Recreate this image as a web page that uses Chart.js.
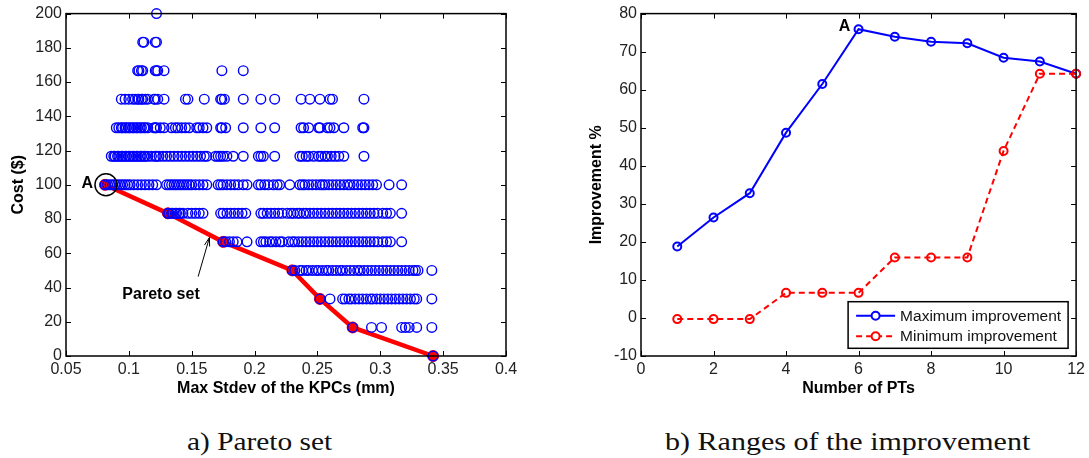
<!DOCTYPE html>
<html>
<head>
<meta charset="utf-8">
<script src="https://cdn.jsdelivr.net/npm/chart.js@4/dist/chart.umd.min.js"></script>
<style>
  body { margin: 0; background: #fff; }
  #wrap { position: relative; width: 1089px; height: 458px; overflow: hidden; }
  canvas { position: absolute; top: 0; }
  .caption {
    position: absolute;
    top: 429px;
    font: 26px/26px "Liberation Serif", "Times New Roman", serif;
    color: #111;
    white-space: nowrap;
    transform-origin: left top;
  }
</style>
</head>
<body>
<div id="wrap">
  <canvas id="paretoChart" width="540" height="402" style="left:0"></canvas>
  <canvas id="improvementChart" width="529" height="402" style="left:560px"></canvas>
  <div class="caption" style="left:187px; transform:scaleX(1.13)">a) Pareto set</div>
  <div class="caption" style="left:665px; transform:scaleX(1.155)">b) Ranges of the improvement</div>
</div>
<script>
// ---- a) Pareto set: candidate designs, one list of KPC stdev per cost level ----
const costLevels = [200, 183.33, 166.67, 150, 133.33, 116.67, 100, 83.33, 66.67, 50, 33.33, 16.67, 0];

const stdevAt200 = [0.122];
const stdevAt183 = [0.111, 0.112, 0.121, 0.122];
const stdevAt167 = [0.107, 0.108, 0.110, 0.111, 0.121, 0.122, 0.123, 0.128, 0.174, 0.191];
const stdevAt150 = [0.094, 0.097, 0.100, 0.103, 0.105, 0.107, 0.108, 0.110, 0.111, 0.113, 0.115, 0.120, 0.121,
  0.123, 0.128, 0.145, 0.147, 0.160, 0.173, 0.174, 0.176, 0.191, 0.205, 0.216, 0.237, 0.244, 0.252, 0.260,
  0.262, 0.287];
const stdevAt133 = [0.090, 0.092, 0.094, 0.095, 0.097, 0.098, 0.100, 0.101, 0.103, 0.104, 0.106, 0.107, 0.109,
  0.110, 0.112, 0.113, 0.115, 0.120, 0.121, 0.122, 0.125, 0.128, 0.134, 0.137, 0.139, 0.142, 0.145, 0.148,
  0.154, 0.156, 0.159, 0.162, 0.173, 0.174, 0.177, 0.191, 0.205, 0.216, 0.237, 0.239, 0.243, 0.251, 0.252,
  0.258, 0.260, 0.263, 0.271, 0.286, 0.287];
const stdevAt117 = [0.086, 0.088, 0.089, 0.091, 0.092, 0.094, 0.095, 0.097, 0.098, 0.100, 0.101, 0.103, 0.104,
  0.106, 0.107, 0.109, 0.110, 0.112, 0.113, 0.115, 0.118, 0.121, 0.122, 0.124, 0.127, 0.130, 0.133, 0.136,
  0.139, 0.142, 0.145, 0.148, 0.151, 0.154, 0.157, 0.160, 0.162, 0.169, 0.171, 0.173, 0.175, 0.178, 0.183,
  0.191, 0.203, 0.205, 0.207, 0.216, 0.236, 0.238, 0.241, 0.243, 0.247, 0.251, 0.253, 0.256, 0.258, 0.261,
  0.264, 0.267, 0.271, 0.287];
const stdevAt100 = [0.081, 0.083, 0.085, 0.087, 0.089, 0.091, 0.093, 0.095, 0.097, 0.099, 0.101, 0.104, 0.107,
  0.110, 0.113, 0.116, 0.119, 0.122, 0.130, 0.132, 0.134, 0.136, 0.138, 0.140, 0.142, 0.144, 0.146, 0.148,
  0.150, 0.153, 0.156, 0.159, 0.162, 0.171, 0.173, 0.175, 0.178, 0.181, 0.184, 0.187, 0.191, 0.194, 0.203,
  0.205, 0.208, 0.211, 0.215, 0.218, 0.220, 0.228, 0.236, 0.238, 0.240, 0.243, 0.246, 0.249, 0.252, 0.254,
  0.256, 0.259, 0.262, 0.265, 0.268, 0.271, 0.274, 0.276, 0.279, 0.282, 0.285, 0.288, 0.291, 0.294, 0.297,
  0.307, 0.317];
const stdevAt83 = [0.131, 0.132, 0.134, 0.135, 0.137, 0.138, 0.140, 0.141, 0.143, 0.147, 0.150, 0.153, 0.156,
  0.159, 0.173, 0.175, 0.178, 0.181, 0.184, 0.187, 0.190, 0.193, 0.205, 0.207, 0.210, 0.213, 0.216, 0.219,
  0.222, 0.226, 0.229, 0.231, 0.234, 0.236, 0.239, 0.241, 0.244, 0.247, 0.250, 0.253, 0.256, 0.259, 0.262,
  0.265, 0.268, 0.271, 0.274, 0.277, 0.280, 0.283, 0.286, 0.289, 0.292, 0.295, 0.298, 0.302, 0.305, 0.308,
  0.317];
const stdevAt67 = [0.175, 0.177, 0.180, 0.183, 0.186, 0.194, 0.205, 0.207, 0.209, 0.212, 0.214, 0.217, 0.220,
  0.222, 0.227, 0.230, 0.232, 0.235, 0.238, 0.241, 0.244, 0.247, 0.250, 0.253, 0.256, 0.259, 0.262, 0.265,
  0.268, 0.271, 0.274, 0.277, 0.280, 0.283, 0.286, 0.289, 0.292, 0.295, 0.298, 0.302, 0.305, 0.308, 0.317];
const stdevAt50 = [0.230, 0.232, 0.236, 0.238, 0.241, 0.243, 0.246, 0.249, 0.251, 0.254, 0.257, 0.259, 0.262,
  0.265, 0.268, 0.270, 0.273, 0.276, 0.279, 0.282, 0.284, 0.287, 0.290, 0.293, 0.296, 0.299, 0.302, 0.305,
  0.308, 0.311, 0.314, 0.317, 0.320, 0.323, 0.326, 0.328, 0.330, 0.341];
const stdevAt33 = [0.252, 0.260, 0.270, 0.272, 0.275, 0.277, 0.280, 0.283, 0.286, 0.289, 0.292, 0.294, 0.297,
  0.300, 0.303, 0.306, 0.309, 0.312, 0.315, 0.318, 0.321, 0.324, 0.327, 0.329, 0.341];
const stdevAt17 = [0.278, 0.293, 0.301, 0.317, 0.320, 0.323, 0.329, 0.341];
const stdevAt0 = [0.342];

const stdevByLevel = [stdevAt200, stdevAt183, stdevAt167, stdevAt150, stdevAt133, stdevAt117,
  stdevAt100, stdevAt83, stdevAt67, stdevAt50, stdevAt33, stdevAt17, stdevAt0];

const paretoStdev = [0.081, 0.131, 0.175, 0.230, 0.252, 0.278, 0.342];
const paretoCost = [100, 83.33, 66.67, 50, 33.33, 16.67, 0];

// ---- b) Ranges of the improvement ----
const numPTs = [1, 2, 3, 4, 5, 6, 7, 8, 9, 10, 11, 12];
const maxImprovement = [18.8, 26.4, 32.8, 48.7, 61.5, 75.9, 73.9, 72.6, 72.2, 68.4, 67.4, 64.2];
const minImprovement = [-0.3, -0.3, -0.3, 6.6, 6.6, 6.6, 15.9, 15.9, 15.9, 43.9, 64.2, 64.2];

const BLUE = '#0000ff';
const RED = '#ff0000';
const SANS = '"Liberation Sans", Arial, sans-serif';
const tickFont = { family: SANS, size: 16 };
const titleFont = { family: SANS, size: 16, weight: 'bold' };

// matlab style box with inward ticks on all four sides
const boxTicks = {
  id: 'boxTicks',
  afterDraw(chart) {
    const { ctx, chartArea: a, scales: { x, y } } = chart;
    ctx.save();
    ctx.strokeStyle = '#000';
    ctx.lineWidth = 1;
    ctx.beginPath();
    x.ticks.forEach(t => {
      const px = Math.round(x.getPixelForValue(t.value)) + 0.5;
      ctx.moveTo(px, a.bottom); ctx.lineTo(px, a.bottom - 5);
      ctx.moveTo(px, a.top); ctx.lineTo(px, a.top + 5);
    });
    y.ticks.forEach(t => {
      const py = Math.round(y.getPixelForValue(t.value)) + 0.5;
      ctx.moveTo(a.left, py); ctx.lineTo(a.left + 5, py);
      ctx.moveTo(a.right, py); ctx.lineTo(a.right - 5, py);
    });
    ctx.stroke();
    ctx.lineWidth = 1.5;
    ctx.strokeRect(a.left, a.top, a.right - a.left, a.bottom - a.top);
    ctx.restore();
  }
};

function axisOptions(min, max, step, title, fit) {
  return {
    type: 'linear',
    min: min,
    max: max,
    ticks: {
      stepSize: step,
      autoSkip: false,
      maxRotation: 0,
      padding: 4,
      color: '#222',
      font: tickFont,
      callback: v => +v.toFixed(2)
    },
    grid: { display: false, drawTicks: false },
    border: { display: false },
    title: { display: true, text: title, color: '#000', font: titleFont, padding: { top: 4, bottom: 4 } },
    afterFit: fit
  };
}

const paretoNotes = {
  id: 'paretoNotes',
  afterDraw(chart) {
    const { ctx, scales: { x, y } } = chart;
    const ax = x.getPixelForValue(paretoStdev[0]);
    const ay = y.getPixelForValue(paretoCost[0]);
    ctx.save();
    ctx.strokeStyle = '#000';
    ctx.fillStyle = '#000';
    ctx.lineWidth = 1.5;
    ctx.beginPath();
    ctx.arc(ax + 1, ay, 11, 0, Math.PI * 2);
    ctx.stroke();

    ctx.font = 'bold 16px ' + SANS;
    ctx.textBaseline = 'middle';
    ctx.textAlign = 'right';
    ctx.fillText('A', ax - 12, ay - 1);
    ctx.textAlign = 'center';
    ctx.fillText('Pareto set', x.getPixelForValue(0.1256), y.getPixelForValue(35.9));

    // arrow pointing at the front
    const tx = x.getPixelForValue(0.1551), ty = y.getPixelForValue(46.4);
    const hx = x.getPixelForValue(0.1641), hy = y.getPixelForValue(69.2);
    const ang = Math.atan2(hy - ty, hx - tx);
    ctx.lineWidth = 1;
    ctx.beginPath();
    ctx.moveTo(tx, ty); ctx.lineTo(hx, hy);
    ctx.moveTo(hx, hy); ctx.lineTo(hx - 9 * Math.cos(ang - 0.3), hy - 9 * Math.sin(ang - 0.3));
    ctx.moveTo(hx, hy); ctx.lineTo(hx - 9 * Math.cos(ang + 0.3), hy - 9 * Math.sin(ang + 0.3));
    ctx.stroke();
    ctx.restore();
  }
};

const candidatePoints = [];
costLevels.forEach((cost, i) => {
  stdevByLevel[i].forEach(s => candidatePoints.push({ x: s, y: cost }));
});

new Chart(document.getElementById('paretoChart'), {
  type: 'scatter',
  data: {
    datasets: [
      {
        label: 'Designs',
        data: candidatePoints,
        pointStyle: 'circle',
        pointRadius: 4.8,
        pointBorderWidth: 1.4,
        pointBorderColor: BLUE,
        pointBackgroundColor: 'rgba(0,0,0,0)',
        clip: false
      },
      {
        label: 'Pareto set',
        data: paretoStdev.map((s, i) => ({ x: s, y: paretoCost[i] })),
        showLine: true,
        borderColor: RED,
        borderWidth: 4.5,
        pointRadius: 5.5,
        pointBorderWidth: 1,
        pointBorderColor: RED,
        pointBackgroundColor: RED,
        clip: false
      }
    ]
  },
  options: {
    responsive: false,
    animation: false,
    events: [],
    layout: { padding: { left: 5, top: 11, right: 34, bottom: 0 } },
    plugins: { legend: { display: false }, tooltip: { enabled: false } },
    scales: {
      x: axisOptions(0.05, 0.4, 0.05, 'Max Stdev of the KPCs (mm)', s => { s.height = 46; }),
      y: axisOptions(0, 200, 20, 'Cost ($)', s => { s.width = 61; })
    }
  },
  plugins: [boxTicks, paretoNotes]
});

const improvementNotes = {
  id: 'improvementNotes',
  afterDraw(chart) {
    const { ctx, chartArea: a, scales: { x, y } } = chart;
    ctx.save();
    ctx.fillStyle = '#000';
    ctx.font = 'bold 16px ' + SANS;
    ctx.textAlign = 'center';
    ctx.textBaseline = 'middle';
    ctx.fillText('A', x.getPixelForValue(5.61), y.getPixelForValue(76.6));

    // legend box in the lower right corner
    const w = 220, h = 46.6;
    const bx = a.right - 8 - w, by = a.bottom - 7.7 - h;
    ctx.fillStyle = '#fff';
    ctx.fillRect(bx, by, w, h);
    ctx.strokeStyle = '#000';
    ctx.lineWidth = 1.5;
    ctx.strokeRect(bx, by, w, h);

    const entries = [
      { text: 'Maximum improvement', color: BLUE, dash: [], dy: 14 },
      { text: 'Minimum improvement', color: RED, dash: [6, 4], dy: 34.5 }
    ];
    ctx.font = '15.5px ' + SANS;
    ctx.textAlign = 'left';
    entries.forEach(e => {
      const ly = by + e.dy;
      ctx.strokeStyle = e.color;
      ctx.lineWidth = 2;
      ctx.setLineDash(e.dash);
      ctx.beginPath();
      ctx.moveTo(bx + 8, ly); ctx.lineTo(bx + 47, ly);
      ctx.stroke();
      ctx.setLineDash([]);
      ctx.beginPath();
      ctx.arc(bx + 27.5, ly, 4, 0, Math.PI * 2);
      ctx.fillStyle = '#fff';
      ctx.fill();
      ctx.stroke();
      ctx.fillStyle = '#111';
      ctx.fillText(e.text, bx + 52, ly + 1);
    });
    ctx.restore();
  }
};

new Chart(document.getElementById('improvementChart'), {
  type: 'line',
  data: {
    datasets: [
      {
        label: 'Maximum improvement',
        data: numPTs.map((n, i) => ({ x: n, y: maxImprovement[i] })),
        borderColor: BLUE,
        borderWidth: 2,
        pointRadius: 4,
        pointBorderWidth: 2,
        pointBorderColor: BLUE,
        pointBackgroundColor: 'rgba(0,0,0,0)',
        tension: 0,
        order: 1,
        clip: false
      },
      {
        label: 'Minimum improvement',
        data: numPTs.map((n, i) => ({ x: n, y: minImprovement[i] })),
        borderColor: RED,
        borderWidth: 2,
        borderDash: [6, 4],
        pointRadius: 4,
        pointBorderWidth: 2,
        pointBorderColor: RED,
        pointBackgroundColor: 'rgba(0,0,0,0)',
        tension: 0,
        order: 0,
        clip: false
      }
    ]
  },
  options: {
    responsive: false,
    animation: false,
    events: [],
    layout: { padding: { left: 23, top: 11, right: 12, bottom: 0 } },
    plugins: { legend: { display: false }, tooltip: { enabled: false } },
    scales: {
      x: axisOptions(0, 12, 2, 'Number of PTs', s => { s.height = 46; }),
      y: axisOptions(-10, 80, 10, 'Improvement %', s => { s.width = 58; })
    }
  },
  plugins: [boxTicks, improvementNotes]
});
</script>
</body>
</html>
